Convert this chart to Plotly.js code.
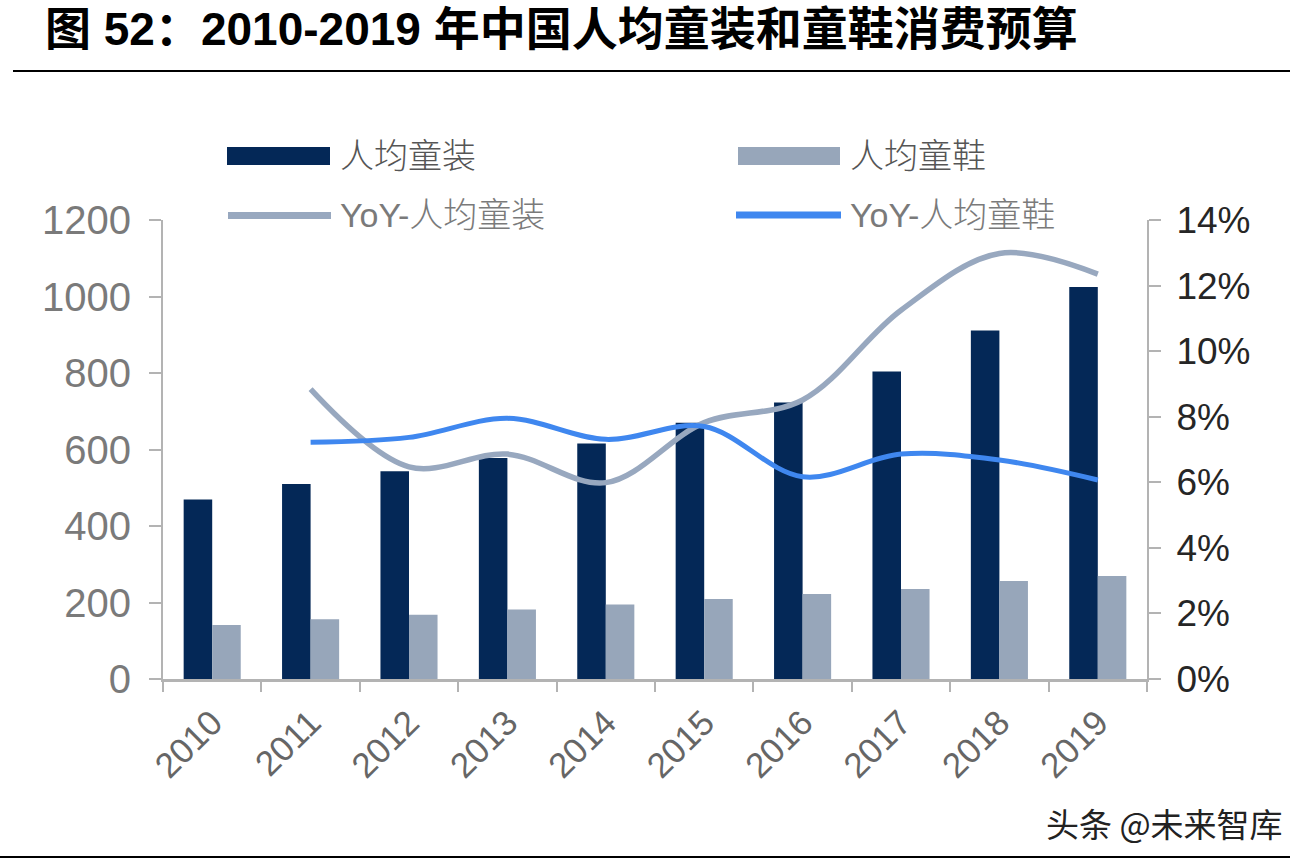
<!DOCTYPE html>
<html>
<head>
<meta charset="utf-8">
<script src="https://cdn.plot.ly/plotly-3.0.1.min.js"></script>
<style>
  html, body { margin: 0; padding: 0; background: #ffffff; }
  #chart { width: 1308px; height: 862px; }
</style>
</head>
<body>
<div id="chart"></div>
<script>
// ---- data ----
const years = ['2010', '2011', '2012', '2013', '2014', '2015', '2016', '2017', '2018', '2019'];
const clothingPerCapita = [469, 510, 543, 578, 616, 670, 723, 804, 911, 1025];
const shoesPerCapita = [141, 156, 168, 182, 195, 209, 222, 235, 256, 269];
const yoyClothing = [null, 0.0884, 0.0647, 0.0686, 0.0599, 0.0782, 0.0851, 0.1125, 0.1298, 0.1235];
const yoyShoes = [null, 0.0722, 0.0737, 0.0795, 0.0731, 0.0770, 0.0617, 0.0686, 0.0668, 0.0607];

const seriesNames = ['人均童装', '人均童鞋', 'YoY-人均童装', 'YoY-人均童鞋'];
const titleText = '图 52：2010-2019 年中国人均童装和童鞋消费预算';
const watermark = '头条 @未来智库';

// ---- styling ----
const C_DARK = '#042857';
const C_LIGHT = '#97a6ba';
const C_LGRAY = '#98a8bf';
const C_BLUE = '#3f87ef';
const AXIS = '#b3b3b3';
const FONT = 'Liberation Sans, Arial, Noto Sans CJK SC, sans-serif';
const CJK = 'Noto Sans CJK SC, sans-serif';

// plot area in pixels (for decoration placement)
const PL = 163, PR = 1147, PT = 220, PB = 679;
const px = x => (x - PL) / (PR - PL);
const py = y => (PB - y) / (PB - PT);

const traces = [
  { type: 'bar', name: seriesNames[0], x: years, y: clothingPerCapita,
    marker: { color: C_DARK }, hoverinfo: 'x+y' },
  { type: 'bar', name: seriesNames[1], x: years, y: shoesPerCapita,
    marker: { color: C_LIGHT }, hoverinfo: 'x+y' },
  { type: 'scatter', mode: 'lines', name: seriesNames[2], x: years, y: yoyClothing,
    yaxis: 'y2', line: { color: C_LGRAY, width: 5.5, shape: 'spline', smoothing: 1 } },
  { type: 'scatter', mode: 'lines', name: seriesNames[3], x: years, y: yoyShoes,
    yaxis: 'y2', line: { color: C_BLUE, width: 5, shape: 'spline', smoothing: 1 } }
];

const shapes = [
  // title underline and bottom rule
  { type: 'line', xref: 'paper', yref: 'paper', x0: px(13), x1: px(1290), y0: py(71), y1: py(71),
    line: { color: '#000', width: 2 } },
  { type: 'line', xref: 'paper', yref: 'paper', x0: px(0), x1: px(1290), y0: py(857), y1: py(857),
    line: { color: '#000', width: 2 } },
  // legend swatches
  { type: 'rect', xref: 'paper', yref: 'paper', x0: px(227), x1: px(330), y0: py(165), y1: py(147),
    fillcolor: C_DARK, line: { width: 0 } },
  { type: 'rect', xref: 'paper', yref: 'paper', x0: px(738), x1: px(840), y0: py(165), y1: py(147),
    fillcolor: C_LIGHT, line: { width: 0 } },
  { type: 'line', xref: 'paper', yref: 'paper', x0: px(228), x1: px(331), y0: py(215.5), y1: py(215.5),
    line: { color: C_LGRAY, width: 7 } },
  { type: 'line', xref: 'paper', yref: 'paper', x0: px(736), x1: px(841), y0: py(215), y1: py(215),
    line: { color: C_BLUE, width: 7 } }
];

const legendText = (txt, x, y, color) => ({
  xref: 'paper', yref: 'paper', x: px(x), y: py(y), xanchor: 'left', yanchor: 'middle',
  text: txt, showarrow: false, font: { family: FONT, size: 34, color: color, weight: 300 }
});

const annotations = [
  legendText(seriesNames[0], 338, 156, '#555555'),
  legendText(seriesNames[1], 848, 156, '#555555'),
  legendText(seriesNames[2], 338, 215, '#7a7a7a'),
  legendText(seriesNames[3], 848, 215, '#7a7a7a'),
  { xref: 'paper', yref: 'paper', x: px(1285), y: py(823), xanchor: 'right', yanchor: 'middle',
    text: watermark, showarrow: false, font: { family: CJK, size: 33, color: '#222' } }
];

const layout = {
  width: 1308, height: 862,
  paper_bgcolor: '#ffffff', plot_bgcolor: '#ffffff',
  margin: { l: PL, r: 1308 - PR, t: PT, b: 862 - PB, pad: 0 },
  showlegend: false,
  barmode: 'group', bargap: 0.42, bargroupgap: 0,
  title: {
    text: titleText,
    font: { family: FONT, size: 46, color: '#000', weight: 'bold' },
    x: 45 / 1308, xref: 'container', xanchor: 'left',
    y: 1 - 29 / 862, yref: 'container', yanchor: 'middle'
  },
  xaxis: {
    type: 'category',
    showline: true, linecolor: AXIS, linewidth: 3,
    ticks: 'outside', tickson: 'boundaries', ticklen: 10, tickwidth: 2, tickcolor: AXIS,
    tickangle: -45, ticklabelstandoff: 6,
    tickfont: { family: FONT, size: 35, color: '#666' },
    showgrid: false, zeroline: false
  },
  yaxis: {
    range: [0, 1200], dtick: 200, tick0: 0,
    showline: true, linecolor: AXIS, linewidth: 2,
    ticks: 'outside', ticklen: 12, tickwidth: 2, tickcolor: AXIS,
    ticklabelstandoff: 10,
    tickfont: { family: FONT, size: 40, color: '#7a7a7a' },
    showgrid: false, zeroline: false
  },
  yaxis2: {
    overlaying: 'y', side: 'right',
    range: [0, 0.14], dtick: 0.02, tick0: 0, tickformat: '.0%',
    showline: true, linecolor: AXIS, linewidth: 2,
    ticks: 'outside', ticklen: 12, tickwidth: 2, tickcolor: AXIS,
    ticklabelstandoff: 8,
    tickfont: { family: FONT, size: 37, color: '#262626' },
    showgrid: false, zeroline: false
  },
  shapes: shapes,
  annotations: annotations
};

Plotly.newPlot('chart', traces, layout, { displayModeBar: false, staticPlot: true });
</script>
</body>
</html>
